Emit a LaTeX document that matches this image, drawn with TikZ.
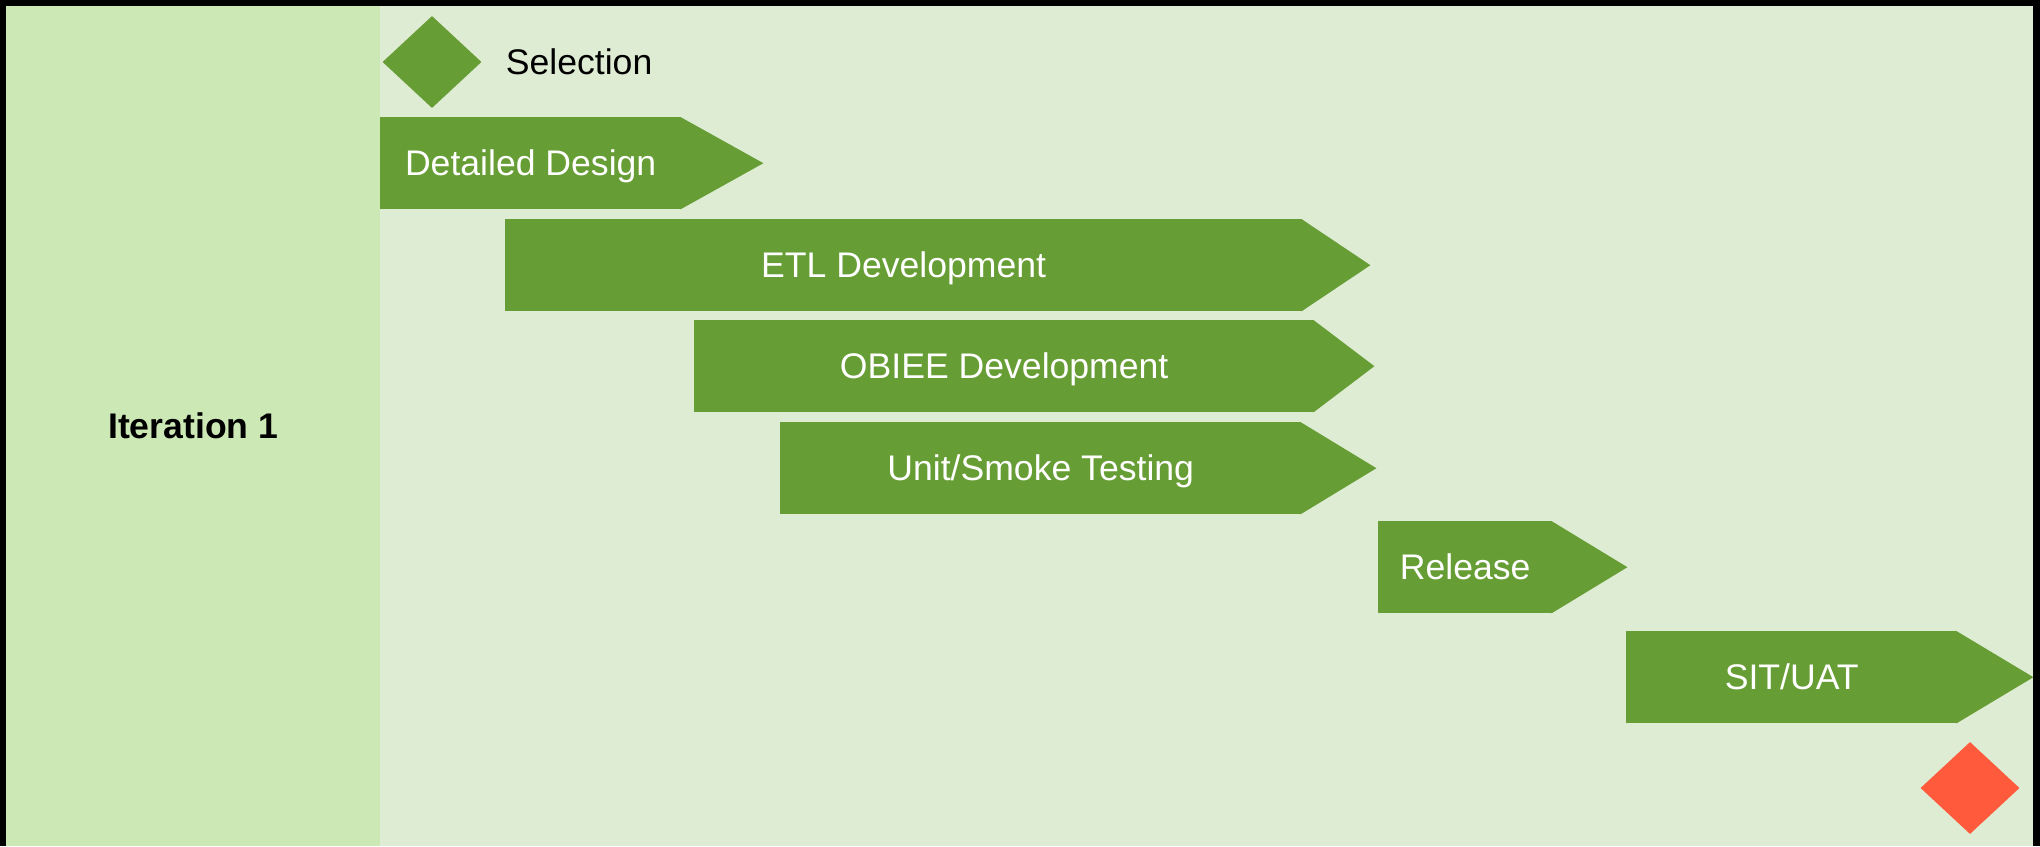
\documentclass[tikz,border=0pt]{standalone}
\usepackage{fontspec}
\setmainfont{Liberation Sans}
\usetikzlibrary{shapes.geometric,positioning}
\definecolor{stagegreen}{HTML}{669D34}
\definecolor{panelgreen}{HTML}{CCE8B5}
\definecolor{bggreen}{HTML}{DFECD4}
\definecolor{endred}{HTML}{FF5A3B}

\begin{document}
\begin{tikzpicture}[x=1pt,y=-1pt,
  every node/.style={font=\fontsize{35.6}{42}\selectfont,text height=25.5pt,text depth=0pt},
  stage/.style={fill=stagegreen,text=white,minimum height=92pt,inner sep=0pt,anchor=north west},
  milestone/.style={diamond,minimum width=99pt,minimum height=92pt,inner sep=0pt}]
\useasboundingbox (0,0) rectangle (2040,846);
\fill[black] (0,0) rectangle (2040,846); % frame
\fill[bggreen] (6,6) rectangle (2033,846);
\node[fill=panelgreen,minimum width=374pt,minimum height=840pt,inner sep=0pt,anchor=north west] (panel) at (6,6) {\bfseries Iteration 1};
% milestones
\node[milestone,fill=stagegreen] (sel) at (432,62) {};
\node[right=24pt of sel,inner sep=0pt] (seltext) {Selection};
\node[milestone,fill=endred] (done) at (1970,788) {};
% stages, left edge and top given
\node[stage,minimum width=301pt] (dd) at (380,117) {Detailed Design};
\node[stage,minimum width=797pt] (etl) at (505,219) {ETL Development};
\node[stage,minimum width=620pt] (obiee) at (694,320) {OBIEE Development};
\node[stage,minimum width=521pt] (unit) at (780,422) {Unit/Smoke Testing};
\node[stage,minimum width=174pt] (rel) at (1378,521) {Release};
\node[stage,minimum width=331pt] (sit) at (1626,631) {SIT/UAT};
\foreach \id/\tiplen in {dd/82,etl/68,obiee/60,unit/75,rel/75,sit/76} % edit here for the tips
\fill[stagegreen] ([xshift=-1pt]\id.north east) -- ([xshift=\tiplen pt]\id.east) -- ([xshift=-1pt]\id.south east) -- cycle;

\end{tikzpicture}
\end{document}
